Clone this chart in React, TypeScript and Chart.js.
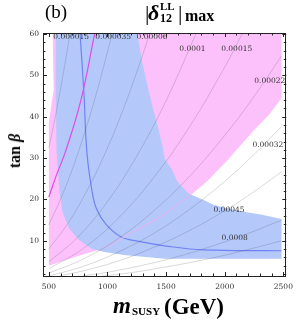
import React, { useEffect, useRef } from "react";
import { Chart, registerables } from "chart.js";

Chart.register(...registerables);

// ---------- data (m_SUSY in GeV, tan beta) ----------
const xMajorTicks = [500, 1000, 1500, 2000, 2500];
const xMinorTicks = [600, 700, 800, 900, 1100, 1200, 1300, 1400, 1600, 1700, 1800, 1900, 2100, 2200, 2300, 2400];
const yMajorTicks = [10, 20, 30, 40, 50, 60];
const yMinorTicks = [2, 4, 6, 8, 12, 14, 16, 18, 22, 24, 26, 28, 32, 34, 36, 38, 42, 44, 46, 48, 52, 54, 56, 58];

// pink (magenta) allowed region outline
const pinkRegion = [
  [500, 4.0], [674, 5.7], [840, 7.1], [965, 8.1], [1255, 12.7], [1488, 16.5], [1712, 21.1],
  [1861, 24.7], [2027, 29.6], [2251, 36.8], [2376, 40.4], [2484, 44.5], [2484, 60],
  [533, 60], [541, 46.5], [500, 38.7],
];

// blue allowed region outline
const blueRegion = [
  [558, 60], [558, 45.7], [566, 31.5], [591, 21.8], [616, 17.0], [674, 12.9], [757, 10.2],
  [865, 8.1], [973, 7.3], [1139, 6.6], [1488, 5.7], [2085, 5.7], [2484, 5.7],
  [2484, 15.3], [2318, 16.3], [2177, 17.0], [2044, 17.7], [1903, 18.7], [1820, 19.9],
  [1695, 21.4], [1596, 24.3], [1546, 27.4], [1488, 29.8], [1471, 32.7], [1421, 38.5],
  [1363, 44.8], [1297, 53.0], [1255, 60],
];

// pink boundary seen through the blue region
const pinkEdgeLine = [[965, 8.1], [1255, 12.7], [1488, 16.5], [1712, 21.1]];

// magenta contour line
const magentaLine = [[890, 60], [774, 44.1], [641, 31.5], [566, 26.0], [500, 20.6]];

// blue contour line
const blueLine = [
  [766, 60], [799, 45.7], [824, 31.5], [865, 22.6], [907, 17.7], [990, 13.9],
  [1114, 11.0], [1280, 9.8], [1488, 8.8], [1820, 7.8], [2484, 7.6],
];

// gray contours of |delta_12^LL|max
const c000015 = [[500, 32.5], [540, 37.9], [580, 43.7], [620, 50.0], [660, 56.6], [680, 60]];
const c000035 = [[500, 13.9], [600, 20.1], [700, 27.3], [800, 35.7], [900, 45.1], [1000, 55.7], [1038, 60]];
const c00006 = [[500, 8.1], [650, 13.7], [800, 20.8], [950, 29.3], [1100, 39.3], [1250, 50.8], [1359, 60]];
const c0001 = [[500, 4.9], [750, 11.0], [1000, 19.5], [1250, 30.5], [1500, 43.9], [1754, 60]];
const c00015 = [[500, 3.25], [800, 8.3], [1100, 15.7], [1400, 25.5], [1700, 37.6], [2000, 52.0], [2148, 60]];
const c00022 = [[500, 2.2], [800, 5.7], [1100, 10.7], [1400, 17.4], [1700, 25.6], [2000, 35.5], [2250, 44.9], [2484, 54.7]];
const c00032 = [[500, 1.5], [800, 3.9], [1100, 7.4], [1400, 11.9], [1700, 17.6], [2000, 24.4], [2250, 30.9], [2484, 37.6]];
const c00045 = [[590, 1.5], [800, 2.8], [1100, 5.2], [1400, 8.5], [1700, 12.5], [2000, 17.3], [2250, 21.9], [2484, 26.7]];
const c0008 = [[785, 1.5], [1000, 2.4], [1300, 4.1], [1600, 6.2], [1900, 8.8], [2200, 11.8], [2484, 15.0]];
const c0012 = [[960, 1.5], [1200, 2.3], [1500, 3.7], [1800, 5.3], [2100, 7.2], [2484, 10.0]];
const grayContours = [c000015, c000035, c00006, c0001, c00015, c00022, c00032, c00045, c0008, c0012];

const contourLabels = ["0.000015", "0.000035", "0.00006", "0.0001", "0.00015", "0.00022", "0.00032", "0.00045", "0.0008"];
const labelM = [690, 1048, 1380, 1724, 2102, 2384, 2368, 2036, 2085];
const labelTan = [59.2, 59.2, 59.2, 56.3, 56.4, 48.6, 33.2, 17.5, 10.7];

const toXY = (arr: number[][]) => arr.map(([x, y]) => ({ x, y }));

const regionPlugin = {
  id: "regions",
  beforeDatasetsDraw(chart: any) {
    const ctx = chart.ctx;
    const a = chart.chartArea;
    ctx.save();
    ctx.beginPath();
    ctx.rect(a.left, a.top, a.right - a.left, a.bottom - a.top);
    ctx.clip();
    chart.data.datasets.forEach((ds: any, i: number) => {
      if (!ds.regionFill) return;
      const pts = chart.getDatasetMeta(i).data;
      ctx.beginPath();
      pts.forEach((p: any, j: number) => (j ? ctx.lineTo(p.x, p.y) : ctx.moveTo(p.x, p.y)));
      ctx.closePath();
      ctx.fillStyle = ds.regionFill;
      ctx.fill();
    });
    ctx.restore();
  },
};

const framePlugin = {
  id: "frameTicks",
  afterDatasetsDraw(chart: any) {
    const ctx = chart.ctx;
    const a = chart.chartArea;
    const xs = chart.scales.x;
    const ys = chart.scales.y;
    ctx.save();
    ctx.font = '7.5px "DejaVu Serif"';
    ctx.fillStyle = "#333";
    ctx.textAlign = "center";
    ctx.textBaseline = "middle";
    contourLabels.forEach((t, i) => {
      ctx.fillText(t, xs.getPixelForValue(labelM[i]), ys.getPixelForValue(labelTan[i]));
    });
    ctx.strokeStyle = "#222";
    ctx.lineWidth = 1;
    ctx.strokeRect(Math.round(a.left) + 0.5, Math.round(a.top) + 0.5, Math.round(a.right - a.left) - 1, Math.round(a.bottom - a.top));
    ctx.beginPath();
    const tick = (vals: number[], len: number) => {
      vals.forEach((v) => {
        const px = Math.round(xs.getPixelForValue(v)) + 0.5;
        ctx.moveTo(px, a.bottom); ctx.lineTo(px, a.bottom - len);
        ctx.moveTo(px, a.top); ctx.lineTo(px, a.top + len);
      });
    };
    const tickY = (vals: number[], len: number) => {
      vals.forEach((v) => {
        const py = Math.round(ys.getPixelForValue(v)) + 0.5;
        ctx.moveTo(a.left, py); ctx.lineTo(a.left + len, py);
        ctx.moveTo(a.right, py); ctx.lineTo(a.right - len, py);
      });
    };
    tick(xMajorTicks, 4);
    tick(xMinorTicks, 2.5);
    tickY(yMajorTicks, 4);
    tickY(yMinorTicks, 2.5);
    ctx.stroke();
    ctx.restore();
  },
};

const serif = '"Liberation Serif", "Times New Roman", serif';

function Txt(props: { l: number; t: number; s: number; b?: boolean; i?: boolean; children: any }) {
  return (
    <span
      style={{
        position: "absolute",
        left: props.l,
        top: props.t,
        fontSize: props.s,
        lineHeight: 1,
        fontFamily: serif,
        fontWeight: props.b ? "bold" : "normal",
        fontStyle: props.i ? "italic" : "normal",
        whiteSpace: "nowrap",
        color: "#000",
      }}
    >
      {props.children}
    </span>
  );
}

export default function App() {
  const ref = useRef<HTMLCanvasElement | null>(null);

  useEffect(() => {
    document.body.style.margin = "0";
    const datasets: any[] = [
      { data: toXY(pinkRegion), regionFill: "#fcc0fb", showLine: false, pointRadius: 0, borderWidth: 0 },
      { data: toXY(blueRegion), regionFill: "#b4c8fa", showLine: false, pointRadius: 0, borderWidth: 0 },
      ...grayContours.map((c) => ({
        data: toXY(c), showLine: true, pointRadius: 0, borderWidth: 0.8,
        borderColor: "rgba(70,70,80,0.26)", tension: 0.4, fill: false,
      })),
      { data: toXY(pinkEdgeLine), showLine: true, pointRadius: 0, borderWidth: 1, borderColor: "#f0b0f2", tension: 0.4 },
      { data: toXY(blueLine), showLine: true, pointRadius: 0, borderWidth: 1.2, borderColor: "#6f84f2", tension: 0.4 },
      { data: toXY(magentaLine), showLine: true, pointRadius: 0, borderWidth: 1.2, borderColor: "#e24ae8", tension: 0.4 },
    ];
    const chart = new Chart(ref.current as HTMLCanvasElement, {
      type: "scatter",
      data: { datasets },
      plugins: [regionPlugin, framePlugin],
      options: {
        animation: false,
        responsive: true,
        maintainAspectRatio: false,
        layout: { padding: { left: 0, right: 8, top: 33, bottom: 0 } },
        plugins: { legend: { display: false }, tooltip: { enabled: false }, title: { display: false } },
        scales: {
          x: {
            type: "linear",
            min: 450,
            max: 2525,
            grid: { display: false, drawTicks: false },
            border: { display: false },
            afterBuildTicks: (axis: any) => { axis.ticks = xMajorTicks.map((v) => ({ value: v })); },
            afterFit: (s: any) => { s.height = 49; },
            ticks: {
              font: { family: "DejaVu Serif", size: 7.5 }, color: "#333", padding: 7, maxRotation: 0, autoSkip: false,
              callback: (v: any) => String(v),
            },
          },
          y: {
            type: "linear",
            min: 1.5,
            max: 60.25,
            grid: { display: false, drawTicks: false },
            border: { display: false },
            afterBuildTicks: (axis: any) => { axis.ticks = yMajorTicks.map((v) => ({ value: v })); },
            afterFit: (s: any) => { s.width = 43; },
            ticks: {
              font: { family: "DejaVu Serif", size: 7.5 }, color: "#333", padding: 4, autoSkip: false,
              callback: (v: any) => String(v),
            },
          },
        },
      } as any,
    });
    return () => chart.destroy();
  }, []);

  return (
    <div style={{ position: "fixed", left: 0, top: 0, width: 300, height: 325, background: "#fff" }}>
      <canvas ref={ref} />
      <Txt l={45} t={2} s={19}>(b)</Txt>
      <Txt l={145} t={2} s={22}>|</Txt>
      <Txt l={148} t={2} s={22} b i>δ</Txt>
      <Txt l={160} t={1} s={11} b>LL</Txt>
      <Txt l={160} t={12} s={12} b>12</Txt>
      <Txt l={178} t={2} s={22}>|</Txt>
      <Txt l={185} t={8} s={16} b>max</Txt>
      <Txt l={113} t={294} s={23} b i>m</Txt>
      <Txt l={132} t={306} s={11} b>SUSY</Txt>
      <Txt l={164} t={295} s={23} b>(GeV)</Txt>
      <span
        style={{
          position: "absolute",
          left: 15,
          top: 151,
          transform: "translate(-50%, -50%) rotate(-90deg)",
          fontFamily: serif,
          fontWeight: "bold",
          fontSize: 16,
          lineHeight: 1,
          whiteSpace: "nowrap",
        }}
      >
        tan <i>β</i>
      </span>
    </div>
  );
}
